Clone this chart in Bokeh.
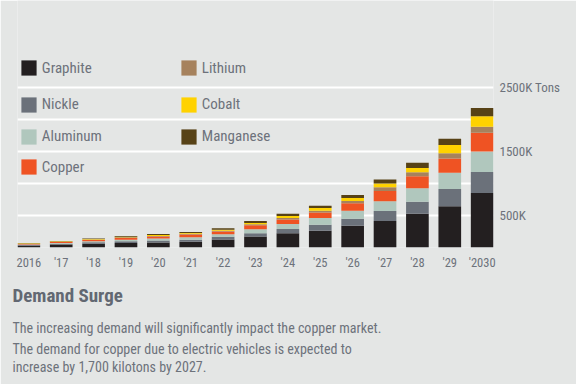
from bokeh.plotting import figure
from bokeh.models import Range1d, FixedTicker, Legend, LegendItem, Title, ColumnDataSource
from bokeh.embed import file_html
from bokeh.resources import INLINE

# ---- data (thousand tons) ----
years = ["2016", "'17", "'18", "'19", "'20", "'21", "'22", "'23", "'24", "'25",
         "'26", "'27", "'28", "'29", "'2030"]
graphite = [28, 45, 60, 70, 77, 88, 124, 170, 221, 263, 340, 413, 526, 645, 851]
nickle = [10, 14, 20, 27, 31, 31, 42, 53, 68, 93, 108, 155, 186, 268, 325]
aluminum = [8, 12, 17, 25, 31, 42, 42, 62, 77, 104, 124, 155, 212, 254, 320]
copper = [10, 15, 20, 27, 31, 42, 40, 62, 71, 87, 119, 160, 186, 221, 294]
lithium = [4, 5, 7, 9, 11, 10, 15, 15, 22, 26, 36, 57, 62, 82, 93]
cobalt = [7, 6, 8, 11, 15, 15, 15, 20, 31, 42, 46, 57, 67, 130, 165]
manganese = [5, 6, 7, 11, 15, 15, 22, 31, 36, 36, 46, 62, 84, 97, 128]

materials = ["Graphite", "Nickle", "Aluminum", "Copper", "Lithium", "Cobalt", "Manganese"]
colors = ["#231f20", "#6b717a", "#b0c7bd", "#ef5323", "#a6825d", "#ffd200", "#574216"]

# legend rows: (left column item, right column item)
legend_rows = [("Graphite", "Lithium"), ("Nickle", "Cobalt"),
               ("Aluminum", "Manganese"), ("Copper", None)]

y_ticks = [500, 1500, 2500]
y_tick_labels = ["500K", "1500K", "2500K Tons"]
grid_ticks = [500, 1000, 1500, 2000, 2500]

title_text = "Demand Surge"
body_lines = [
    "The increasing demand will significantly impact the copper market.",
    "The demand for copper due to electric vehicles is expected to",
    "increase by 1,700 kilotons by 2027.",
]

BG = "#e4e6e5"
TXT = "#6d727b"
FONT = "'Roboto Condensed', Roboto"

W, H = 576, 384
FRAME_L, FRAME_R, FRAME_B = 17, 493, 247

xs = list(range(len(years)))
source = ColumnDataSource(dict(x=xs, Graphite=graphite, Nickle=nickle, Aluminum=aluminum,
                               Copper=copper, Lithium=lithium, Cobalt=cobalt,
                               Manganese=manganese))

p = figure(width=W, height=H, output_backend="svg", toolbar_location=None,
           x_range=Range1d(-0.35, len(years) - 1 + 0.35), y_range=Range1d(0, 3853),
           y_axis_location="right",
           min_border_left=FRAME_L, min_border_right=W - FRAME_R,
           min_border_top=0, min_border_bottom=H - FRAME_B)
p.background_fill_color = BG
p.border_fill_color = BG
p.outline_line_color = None

rs = p.vbar_stack(materials, x="x", width=0.7, fill_color=colors, line_color=None,
                  source=source)
rmap = dict(zip(materials, rs))

# grid
p.xgrid.visible = False
p.ygrid.ticker = FixedTicker(ticks=grid_ticks)
p.ygrid.grid_line_color = "white"
p.ygrid.grid_line_width = 2

# right axis
p.yaxis.ticker = FixedTicker(ticks=y_ticks)
p.yaxis.major_label_overrides = {t: l for t, l in zip(y_ticks, y_tick_labels)}
p.yaxis.axis_line_color = None
p.yaxis.major_tick_line_color = None
p.yaxis.minor_tick_line_color = None
p.yaxis.major_tick_out = 0
p.yaxis.major_tick_in = 0
p.yaxis.major_label_standoff = 6
p.yaxis.major_label_text_font = FONT
p.yaxis.major_label_text_font_size = "13px"
p.yaxis.major_label_text_color = TXT

# bottom axis
p.xaxis.ticker = FixedTicker(ticks=xs)
p.xaxis.major_label_overrides = {i: y for i, y in enumerate(years)}
p.xaxis.axis_line_color = None
p.xaxis.major_tick_line_color = None
p.xaxis.minor_tick_line_color = None
p.xaxis.major_tick_out = 0
p.xaxis.major_tick_in = 0
p.xaxis.major_label_standoff = 7
p.xaxis.major_label_text_font = FONT
p.xaxis.major_label_text_font_size = "12.5px"
p.xaxis.major_label_text_color = TXT

# legend: one horizontal legend per row, placed between grid lines
row_centers = [67.7, 104.3, 136.3, 166.7]   # px from top of the frame
ROW_H = 19
for (a, b), cy in zip(legend_rows, row_centers):
    names = [n for n in (a, b) if n]
    leg = Legend(items=[LegendItem(label=n, renderers=[rmap[n]]) for n in names],
                 location=(1.8, FRAME_B - (cy + ROW_H / 2)), orientation="horizontal")
    leg.glyph_width = ROW_H
    leg.glyph_height = ROW_H
    leg.label_height = ROW_H
    leg.label_width = 137
    leg.label_standoff = 4
    leg.spacing = 0
    leg.padding = 0
    leg.margin = 0
    leg.background_fill_alpha = 0
    leg.border_line_alpha = 0
    leg.label_text_font = FONT
    leg.label_text_font_size = "15px"
    leg.label_text_color = TXT
    leg.label_text_baseline = "middle"
    p.add_layout(leg)

t0 = Title(text=title_text, text_font=FONT, text_font_size="19px", text_font_style="bold",
           text_color="#626872", align="left", offset=-5, standoff=18)
p.add_layout(t0, "below")
for line, so in zip(body_lines, [5, 0, 0]):
    p.add_layout(Title(text=line, text_font=FONT, text_font_size="14px",
                       text_font_style="normal", text_color=TXT, align="left",
                       offset=-5, standoff=so), "below")

open("out.html", "w").write(file_html(p, INLINE))
